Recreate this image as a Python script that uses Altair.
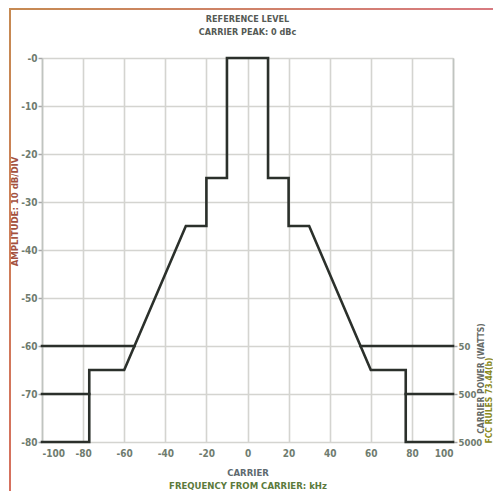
import altair as alt
import pandas as pd

# ---- data ----
mask_khz = [-100, -77, -77, -60, -30, -20, -20, -10, -10, 10, 10, 20, 20, 30, 60, 77, 77, 100]
mask_dbc = [-80, -80, -65, -65, -35, -35, -25, -25, 0, 0, -25, -25, -35, -35, -65, -65, -80, -80]

w50_left_khz = [-100, -55]
w50_right_khz = [55, 100]
w50_dbc = -60
w500_left_khz = [-100, -77]
w500_right_khz = [77, 100]
w500_dbc = -70

x_ticks = [-100, -80, -60, -40, -20, 0, 20, 40, 60, 80, 100]
y_ticks = [0, -10, -20, -30, -40, -50, -60, -70, -80]
power_levels = [-60, -70, -80]
power_labels = ["50", "500", "5000"]

# ---- tables ----
mask_df = pd.DataFrame({"khz": mask_khz, "dbc": mask_dbc, "seg": "mask",
                        "i": list(range(len(mask_khz)))})
rows = []
for name, xs, lvl in [("50L", w50_left_khz, w50_dbc), ("50R", w50_right_khz, w50_dbc),
                      ("500L", w500_left_khz, w500_dbc), ("500R", w500_right_khz, w500_dbc)]:
    for i, xv in enumerate(xs):
        rows.append({"khz": xv, "dbc": lvl, "seg": name, "i": i})
power_df = pd.DataFrame(rows)

FONT = "DejaVu Sans Condensed, Liberation Sans Narrow, sans-serif"
W, H = 411, 384
LINE = "#2b302b"

xscale = alt.Scale(domain=[-100, 100], nice=False, zero=False)
yscale = alt.Scale(domain=[-80, 0], nice=False, zero=False)

power_expr = " : ".join(
    [f"datum.value == {v} ? '{l}'" for v, l in zip(power_levels[:-1], power_labels[:-1])]
) + f" : '{power_labels[-1]}'"

main = alt.Chart(mask_df).mark_line(color=LINE, strokeWidth=2.6, strokeJoin="miter",
                                    strokeCap="square", clip=False).encode(
    x=alt.X("khz:Q", scale=xscale, axis=alt.Axis(
        orient="bottom",
        values=x_ticks, grid=True, gridColor="#d4d4d0", gridWidth=1.6,
        tickSize=0, domain=False, labelPadding=6,
        labelExpr="datum.value < 0 ? '-' + abs(datum.value) : '' + datum.value",
        labelColor="#6f7c6f", labelFontSize=10, labelFont=FONT, labelFontWeight="bold",
        title="CARRIER", titleColor="#5e6a70", titleFontSize=9.5, titleFont=FONT,
        titleFontWeight="bold", titleY=30, titleBaseline="middle")),
    y=alt.Y("dbc:Q", scale=yscale, axis=alt.Axis(
        orient="left",
        values=y_ticks, grid=True, gridColor="#d4d4d0", gridWidth=1.6,
        tickSize=4, tickColor="#a8a8a8", tickWidth=1.5, domain=True, domainColor="#c0c4c0",
        domainWidth=1.6, labelPadding=1,
        labelExpr="'-' + abs(datum.value)",
        labelColor="#6f7c6f", labelFontSize=10, labelFont=FONT, labelFontWeight="bold",
        title="AMPLITUDE: 10 dB/DIV", titleColor="#a3503e", titleFontSize=9.5,
        titleFont=FONT, titleFontWeight="bold", titleAngle=270, titleX=-28, titleY=153,
        titleAlign="center", titleBaseline="middle")),
    detail="seg:N",
    order="i:Q",
)

power = alt.Chart(power_df).mark_line(color=LINE, strokeWidth=2.6, strokeCap="square",
                                      clip=False).encode(
    x=alt.X("khz:Q", scale=xscale, axis=alt.Axis(
        orient="bottom",
        labels=False, ticks=False, domain=False, grid=False,
        title="FREQUENCY FROM CARRIER: kHz", titleColor="#5b7a3c", titleFontSize=9.5,
        titleFont=FONT, titleFontWeight="bold", titleY=43, titleBaseline="middle")),
    y=alt.Y("dbc:Q", scale=yscale, axis=alt.Axis(
        orient="right", values=power_levels, labelExpr=power_expr, grid=False,
        tickSize=4, tickColor="#a8a8a8", tickWidth=1.5, domain=True, domainColor="#c0c4c0",
        domainWidth=1.6, labelPadding=1,
        labelColor="#6f7c6f", labelFontSize=9.5, labelFont=FONT, labelFontWeight="bold",
        title="CARRIER POWER (WATTS)", titleColor="#666a66", titleFontSize=8.5,
        titleFont=FONT, titleFontWeight="bold", titleAngle=270, titleX=27, titleY=320,
        titleAlign="center", titleBaseline="middle")),
    detail="seg:N",
    order="i:Q",
)

fcc = alt.Chart(power_df).mark_line(strokeOpacity=0).encode(
    x=alt.X("khz:Q", scale=xscale, axis=None),
    y=alt.Y("dbc:Q", scale=yscale, axis=alt.Axis(
        orient="right", labels=False, ticks=False, domain=False, grid=False,
        title="FCC RULES 73.44(b)", titleColor="#8a8a22", titleFontSize=8.5,
        titleFont=FONT, titleFontWeight="bold", titleAngle=270, titleX=35.5, titleY=342,
        titleAlign="center", titleBaseline="middle")),
    detail="seg:N",
)

# decorative frame (top and left edges of the scanned page)
frame_top = alt.Chart(pd.DataFrame({"a": [0]})).mark_rect(
    clip=False,
    color=alt.Gradient(gradient="linear", x1=0, x2=1, y1=0, y2=0,
                       stops=[alt.GradientStop(color="#c68a52", offset=0),
                              alt.GradientStop(color="#d87a80", offset=1)])
).encode(x=alt.value(-33), x2=alt.value(W + 40), y=alt.value(-50), y2=alt.value(-48))

frame_left = alt.Chart(pd.DataFrame({"a": [0]})).mark_rect(
    clip=False,
    color=alt.Gradient(gradient="linear", x1=0, x2=0, y1=0, y2=1,
                       stops=[alt.GradientStop(color="#c68a52", offset=0),
                              alt.GradientStop(color="#d6705e", offset=1)])
).encode(x=alt.value(-33), x2=alt.value(-31), y=alt.value(-50), y2=alt.value(H + 49))

chart = alt.layer(main, power, fcc, frame_top, frame_left).resolve_axis(
    x="independent", y="independent"
).properties(
    width=W, height=H,
    autosize=alt.AutoSizeParams(type="none"),
    padding={"left": 34, "top": 50, "right": 40, "bottom": 49},
    title=alt.TitleParams("REFERENCE LEVEL", subtitle="CARRIER PEAK: 0 dBc",
                          font=FONT, fontSize=9, fontWeight="bold", color="#555a55",
                          subtitleFont=FONT, subtitleFontSize=9, subtitleFontWeight="bold",
                          subtitleColor="#555a55", anchor="middle", offset=-29,
                          subtitlePadding=4, frame="group"),
).configure_view(stroke=None).configure(background="white")

chart.save("out.html", embed_options={"renderer": "svg", "actions": False})
